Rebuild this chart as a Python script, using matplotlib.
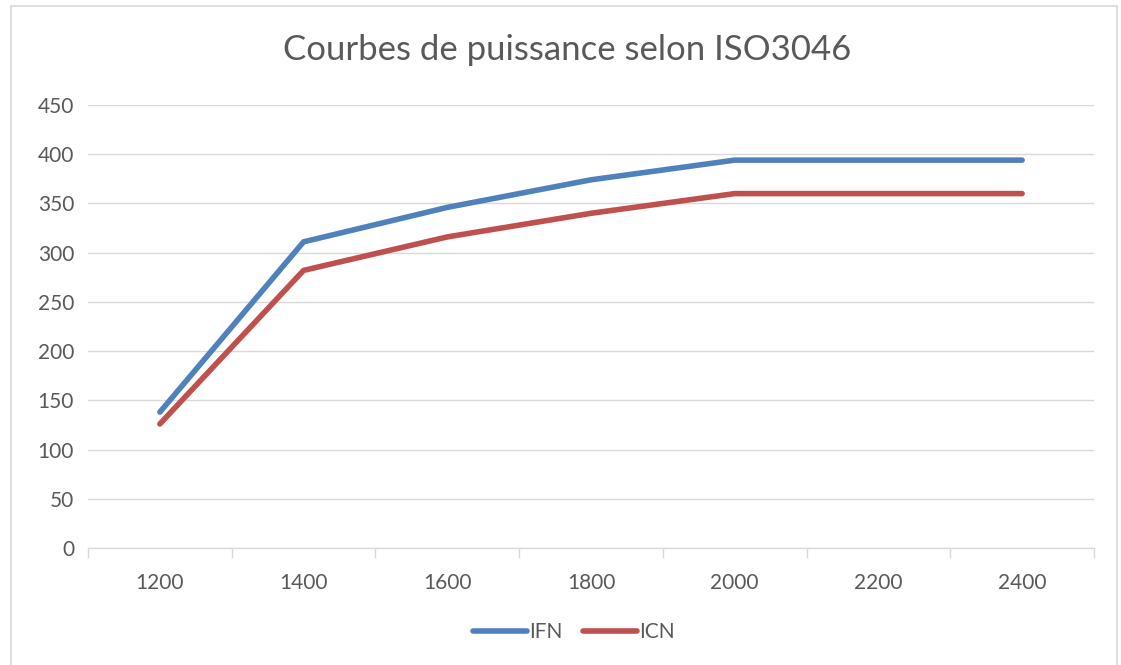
import matplotlib
matplotlib.use('Agg')

import matplotlib.pyplot as plt
import numpy as np
from matplotlib.patches import Rectangle

plt.rcParams['font.family'] = ['Lato', 'DejaVu Sans']

# regime (tr/min) and power curves
regimes = ['1200', '1400', '1600', '1800', '2000', '2200', '2400']
ifn = [138, 311, 346, 374, 394, 394, 394]
icn = [126, 282, 316, 340, 360, 360, 360]
yticks = [0, 50, 100, 150, 200, 250, 300, 350, 400, 450]

txt_col = '#595959'
grid_col = '#D9D9D9'

fig = plt.figure(figsize=(11.21, 6.65), dpi=100)
# chart frame
fig.patches.append(Rectangle((11/1121, -0.01), (1117-11)/1121, 1 - 6/665 + 0.01,
                             transform=fig.transFigure, fill=False,
                             edgecolor='#D9D9D9', lw=1.2))

ax = fig.add_axes([88/1121, 1 - 548/665, (1094-88)/1121, (548-105)/665])

x = np.arange(len(regimes))
ax.plot(x, ifn, color='#4F81BD', lw=4, solid_capstyle='round', label='IFN', zorder=3)
ax.plot(x, icn, color='#C0504D', lw=4, solid_capstyle='round', label='ICN', zorder=3)

ax.set_xlim(-0.5, len(regimes) - 0.5)
ax.set_ylim(0, 450)
ax.set_yticks(yticks)
ax.set_yticklabels([str(v) for v in yticks])
ax.grid(axis='y', color=grid_col, lw=1)
ax.set_axisbelow(True)

# category ticks between labels, labels at centers
ax.set_xticks(np.arange(-0.5, len(regimes), 1.0))
ax.set_xticklabels([])
ax.set_xticks(x, minor=True)
ax.set_xticklabels(regimes, minor=True)
ax.tick_params(axis='x', which='major', length=7, color=grid_col, width=1)
ax.tick_params(axis='x', which='minor', length=0, pad=18, labelsize=15, labelcolor=txt_col)
ax.tick_params(axis='y', length=0, pad=10, labelsize=15, labelcolor=txt_col)

for s in ['top', 'right', 'left']:
    ax.spines[s].set_visible(False)
ax.spines['bottom'].set_color(grid_col)
ax.spines['bottom'].set_linewidth(1)

fig.text(567/1121, 1 - 50/665, 'Courbes de puissance selon ISO3046', ha='center', va='center',
         fontsize=25, color=txt_col)

leg = fig.legend(loc='center', bbox_to_anchor=(574/1121, 1 - 632/665), ncol=2, frameon=False,
                 fontsize=15, handlelength=2.6, handletextpad=0.1, columnspacing=1.0)
for t in leg.get_texts():
    t.set_color(txt_col)

plt.savefig('out.png', dpi=100)
